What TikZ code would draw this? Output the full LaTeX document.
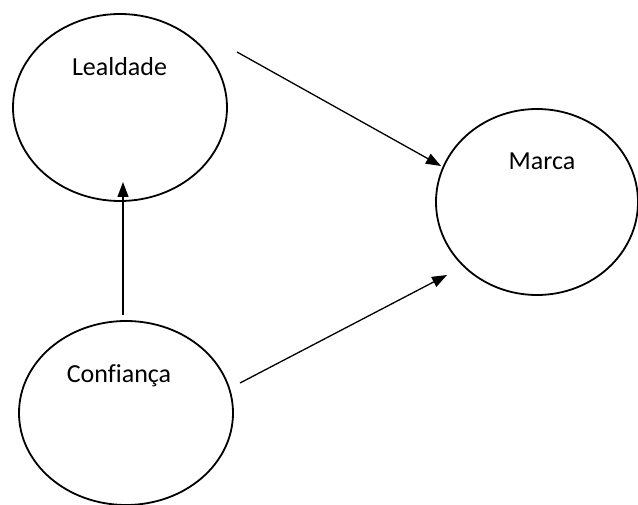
\documentclass[tikz,border=0pt]{standalone}
\usepackage{fontspec}
\setmainfont{Carlito}[Ligatures={NoCommon}]
\usetikzlibrary{shapes.geometric,arrows.meta}
\begin{document}
\begin{tikzpicture}[x=1pt,y=-1pt,
  construct/.style={draw=black,line width=1.8pt,ellipse,inner sep=0pt},
  label text/.style={anchor=base,inner sep=0pt,font=\fontsize{26}{30}\selectfont},
  link/.style={line width=1.3pt,-{Triangle[length=15pt,width=11pt]}}]
\useasboundingbox (0,0) rectangle (638,505);
% constructs
\node[construct,minimum width=214pt,minimum height=187pt] (leal) at (120,107.5) {};
\node[construct,minimum width=202pt,minimum height=186pt] (marca) at (537,202) {};
\node[construct,minimum width=214pt,minimum height=184pt] (conf) at (126,413) {};
% labels
\node[label text] (tleal) at (119.5,76) {Lealdade};
\node[label text] (tmarca) at (542,170) {Marca};
\node[label text] (tconf) at (119,382) {Confiança};
% connector end points
\coordinate (lealout) at (237,52);
\coordinate (marcain1) at (441,166);
\coordinate (confup) at (123,315);
\coordinate (lealin) at (123,182);
\coordinate (confout) at (240,383);
\coordinate (marcain2) at (447,275);
% paths
\draw[link] (lealout) -- (marcain1);
\draw[link] (confup) -- (lealin);
\draw[link] (confout) -- (marcain2);
\end{tikzpicture}
\end{document}
